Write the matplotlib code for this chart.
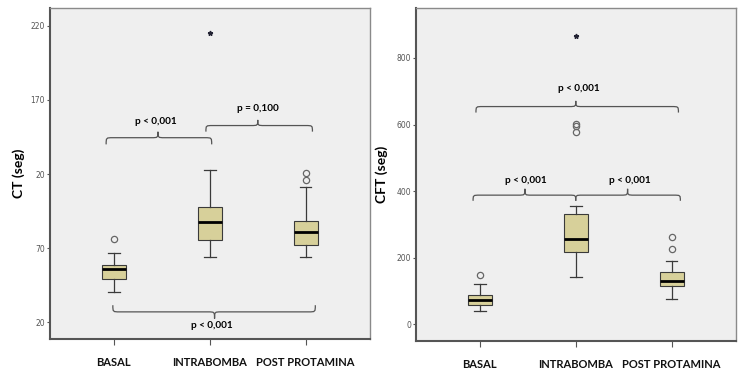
import numpy as np
import matplotlib
matplotlib.use('Agg')
import matplotlib.pyplot as plt
from matplotlib.path import Path
from matplotlib.patches import PathPatch

plt.rcParams['font.family'] = ['Lato', 'DejaVu Sans']

# ---- data ----
groups = ['BASAL', 'INTRABOMBA', 'POST PROTAMINA']

ct_lo = [40.7, 63.9, 63.9]
ct_q1 = [49.5, 75.6, 72.2]
ct_med = [56.2, 87.4, 81.0]
ct_q3 = [58.3, 98.0, 88.0]
ct_hi = [67.0, 123.0, 111.0]
ct_out = [[76.0], [], [116.0, 121.0]]
ct_ext = [[], [215.0], []]
ct_ticks = [20, 70, 120, 170, 220]
ct_ticklabels = ['20', '70', '20', '170', '220']

cft_lo = [41, 142, 75]
cft_q1 = [57, 216, 114]
cft_med = [74, 256, 129]
cft_q3 = [87, 331, 156]
cft_hi = [120, 356, 190]
cft_out = [[147], [578, 596, 603], [225, 263]]
cft_ext = [[], [867], []]
cft_ticks = [0, 200, 400, 600, 800]
cft_ticklabels = ['0', '200', '400', '600', '800']

ct_p = ['p < 0,001', 'p = 0,100', 'p < 0,001']
cft_p = ['p < 0,001', 'p < 0,001', 'p < 0,001']

box_fill = '#d7d09a'
edge = '#3a3a3a'
bg = '#efefef'


def brace(ax, x0, x1, y_end, y_line, y_tip, xm=None, r=0.07):
    # curly brace, tip toward y_tip
    if xm is None:
        xm = (x0 + x1) / 2
    verts = [(x0, y_end),
             (x0, y_line), (x0, y_line), (x0 + r, y_line),
             (xm - r, y_line),
             (xm, y_line), (xm, y_line), (xm, y_tip),
             (xm, y_line), (xm, y_line), (xm + r, y_line),
             (x1 - r, y_line),
             (x1, y_line), (x1, y_line), (x1, y_end)]
    codes = [Path.MOVETO,
             Path.CURVE4, Path.CURVE4, Path.CURVE4,
             Path.LINETO,
             Path.CURVE4, Path.CURVE4, Path.CURVE4,
             Path.CURVE4, Path.CURVE4, Path.CURVE4,
             Path.LINETO,
             Path.CURVE4, Path.CURVE4, Path.CURVE4]
    ax.add_patch(PathPatch(Path(verts, codes), fill=False, ec='#555555', lw=0.9))


def panel(ax, lo, q1, med, q3, hi, out, ext, ticks, ticklabels, ylabel, ylim, lab_x):
    stats = []
    for i in range(len(groups)):
        stats.append(dict(whislo=lo[i], q1=q1[i], med=med[i], q3=q3[i],
                          whishi=hi[i], fliers=out[i]))
    ax.bxp(stats, positions=[1, 2, 3], widths=0.25, patch_artist=True,
           boxprops=dict(facecolor=box_fill, edgecolor=edge, lw=0.8),
           medianprops=dict(color='black', lw=2),
           whiskerprops=dict(color=edge, lw=0.9),
           capprops=dict(color=edge, lw=0.9), capwidths=0.12,
           flierprops=dict(marker='o', mfc='none', mec='#666666', ms=4.5, mew=0.9))
    for i, e in enumerate(ext):
        if e:
            ax.plot([i + 1] * len(e), e, ls='none', marker='*', color='#222233', ms=3.5)
    ax.set_facecolor(bg)
    ax.set_xlim(0.335, 3.67)
    ax.set_ylim(*ylim)
    ax.set_yticks(ticks)
    ax.set_yticklabels(ticklabels, fontsize=5.5, color='#555555', family='DejaVu Sans')
    ax.set_xticks([1, 2, 3])
    ax.set_xticklabels(groups, fontsize=8, fontweight='bold', color='#111111')
    ax.tick_params(axis='y', length=2.5, width=0.8, color='#555555', pad=1)
    ax.tick_params(axis='x', length=4, width=0.8, color='#555555', pad=9)
    for s in ax.spines.values():
        s.set_color('#8a8a8a')
        s.set_linewidth(1.0)
    ax.spines['left'].set_color('#555555')
    ax.spines['left'].set_linewidth(1.5)
    ax.spines['bottom'].set_color('#555555')
    ax.spines['bottom'].set_linewidth(1.5)
    ax.set_ylabel(ylabel, fontsize=10, fontweight='bold')
    ax.yaxis.set_label_coords(lab_x, 0.5)


fig = plt.figure(figsize=(7.53, 3.77), dpi=100)
ax1 = fig.add_axes([50 / 753, 38 / 377, 320 / 753, 331 / 377])
ax2 = fig.add_axes([416 / 753, 36 / 377, 320 / 753, 333 / 377])

panel(ax1, ct_lo, ct_q1, ct_med, ct_q3, ct_hi, ct_out, ct_ext,
      ct_ticks, ct_ticklabels, 'CT (seg)', (8.7, 232), -0.078)
panel(ax2, cft_lo, cft_q1, cft_med, cft_q3, cft_hi, cft_out, cft_ext,
      cft_ticks, cft_ticklabels, 'CFT (seg)', (-50, 950), -0.088)

pfs = 7.2
# left panel brackets
brace(ax1, 0.92, 2.02, 140, 144.5, 148.5, xm=1.46)
ax1.text(1.44, 155.5, ct_p[0], ha='center', va='center', fontsize=pfs, fontweight='bold')
brace(ax1, 1.96, 3.07, 148.6, 152.7, 156.5, xm=2.5)
ax1.text(2.5, 164.0, ct_p[1], ha='center', va='center', fontsize=pfs, fontweight='bold')
brace(ax1, 0.99, 3.1, 31.5, 27, 22.5, xm=2.05)
ax1.text(2.02, 17.5, ct_p[2], ha='center', va='center', fontsize=pfs, fontweight='bold')

# right panel brackets
brace(ax2, 0.96, 3.07, 636, 654, 671, xm=2.0)
ax2.text(2.03, 708, cft_p[0], ha='center', va='center', fontsize=pfs, fontweight='bold')
brace(ax2, 0.93, 2.0, 371, 388, 407, xm=1.47)
ax2.text(1.48, 433, cft_p[1], ha='center', va='center', fontsize=pfs, fontweight='bold')
brace(ax2, 2.0, 3.09, 371, 388, 407, xm=2.54)
ax2.text(2.56, 433, cft_p[2], ha='center', va='center', fontsize=pfs, fontweight='bold')

fig.savefig('out.png', dpi=100, facecolor='white')
